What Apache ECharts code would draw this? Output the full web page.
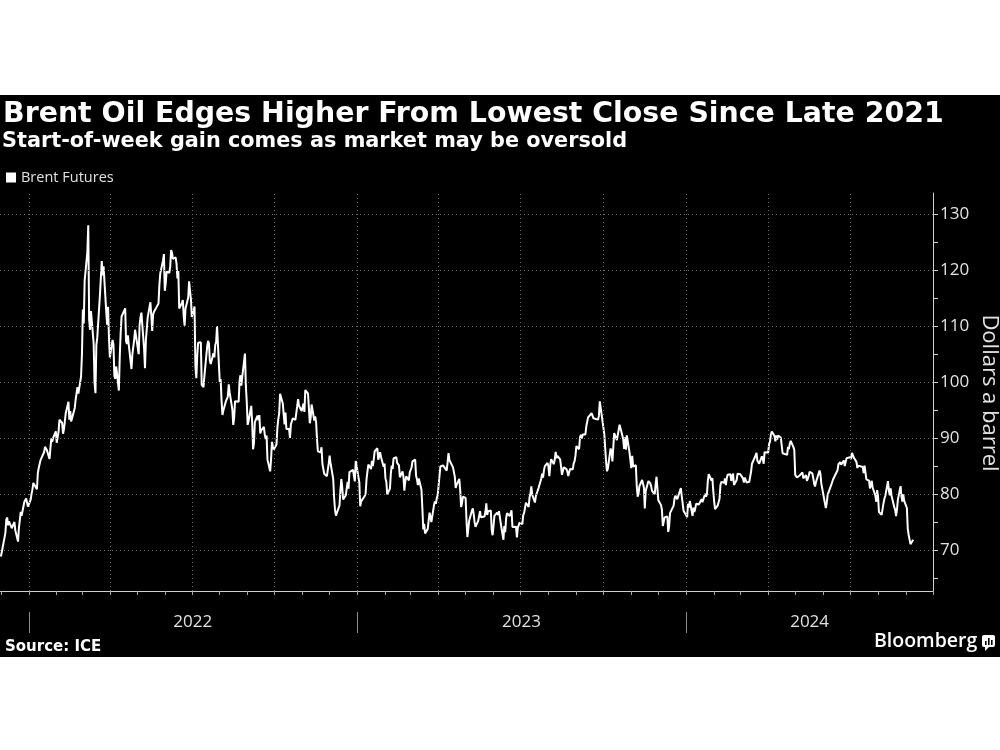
<!DOCTYPE html>
<html>
<head>
<meta charset="utf-8">
<script src="https://cdn.jsdelivr.net/npm/echarts@6/dist/echarts.min.js"></script>
<style>html,body{margin:0;padding:0;background:#fff}#chart{width:1000px;height:750px}</style>
</head>
<body>
<div id="chart"></div>
<script>
// ---------- texts ----------
const titleText = 'Brent Oil Edges Higher From Lowest Close Since Late 2021';
const subtitleText = 'Start-of-week gain comes as market may be oversold';
const seriesName = 'Brent Futures';
const yAxisTitle = 'Dollars a barrel';
const sourceText = 'Source: ICE';
const brandText = 'Bloomberg';

// ---------- axes ----------
const axisStartDate = '2021-11-30';
const axisEndDate = '2024-10-01';
const yMin = 62.7;
const yMax = 133.75;
const yLabelValues = [70, 80, 90, 100, 110, 120, 130];
const yTickValues = [65, 70, 75, 80, 85, 90, 95, 100, 105, 110, 115, 120, 125, 130];
const yearLabelDates = ['2022-07-02', '2023-07-02', '2024-05-17'];
const yearStartDates = ['2022-01-01', '2023-01-01', '2024-01-01'];
const quarterDates = ['2022-01-01','2022-04-01','2022-07-01','2022-10-01',
  '2023-01-01','2023-04-01','2023-07-01','2023-10-01',
  '2024-01-01','2024-04-01','2024-07-01'];

// ---------- data: [MM-DD, close] per year ----------
const closes2021 = [['12-01',68.87],['12-02',69.67],['12-03',69.88],['12-06',73.08],['12-07',75.44],['12-08',75.82],['12-09',74.42],['12-10',75.15],['12-13',73.90],['12-14',73.70],['12-15',73.88],['12-16',75.02],['12-17',73.52],['12-20',71.52],['12-21',73.98],['12-22',75.29],['12-23',76.85],['12-24',76.14],['12-27',78.60],['12-28',78.94],['12-29',79.23],['12-30',79.32],['12-31',77.78]];
const closes2022 = [['01-03',78.98],['01-04',80.00],['01-05',80.80],['01-06',81.99],['01-07',81.75],['01-10',80.87],['01-11',83.72],['01-12',84.67],['01-13',84.47],['01-14',86.06],['01-18',87.51],['01-19',88.44],['01-20',88.38],['01-21',87.89],['01-24',86.27],['01-25',88.20],['01-26',89.96],['01-27',89.34],['01-28',90.03],['01-31',91.21],
['02-01',89.16],['02-02',89.47],['02-03',91.11],['02-04',93.27],['02-07',92.69],['02-08',90.78],['02-09',91.55],['02-10',91.41],['02-11',94.44],['02-14',96.48],['02-15',93.28],['02-16',94.81],['02-17',92.97],['02-18',93.54],['02-21',95.39],['02-22',96.84],['02-23',96.84],['02-24',99.08],['02-25',97.93],['02-28',100.99],
['03-01',104.97],['03-02',112.93],['03-03',110.46],['03-04',118.11],['03-07',123.21],['03-08',127.98],['03-09',111.14],['03-10',109.33],['03-11',112.67],['03-14',106.90],['03-15',99.91],['03-16',98.02],['03-17',106.64],['03-18',107.93],['03-21',115.62],['03-22',115.48],['03-23',121.60],['03-24',119.03],['03-25',120.65],['03-28',112.48],['03-29',110.23],['03-30',113.45],['03-31',107.91],
['04-01',104.39],['04-04',107.53],['04-05',106.64],['04-06',101.07],['04-07',100.58],['04-08',102.78],['04-11',98.48],['04-12',104.64],['04-13',108.78],['04-14',111.70],['04-18',113.16],['04-19',107.25],['04-20',106.80],['04-21',108.33],['04-22',106.65],['04-25',102.32],['04-26',104.99],['04-27',105.32],['04-28',107.59],['04-29',109.34],
['05-03',104.97],['05-04',110.14],['05-05',111.55],['05-06',112.39],['05-09',105.94],['05-10',102.46],['05-11',107.51],['05-12',107.45],['05-13',111.55],['05-16',114.24],['05-17',111.93],['05-18',109.11],['05-19',112.04],['05-20',112.55],['05-23',113.42],['05-24',113.56],['05-25',114.03],['05-26',117.40],['05-27',119.43],['05-30',121.67],['05-31',122.84],
['06-01',116.29],['06-02',117.61],['06-03',119.72],['06-06',119.51],['06-07',120.57],['06-08',123.58],['06-09',123.07],['06-10',122.01],['06-13',122.27],['06-14',121.17],['06-15',118.51],['06-16',119.81],['06-17',113.12],['06-20',114.13],['06-21',114.65],['06-22',111.74],['06-23',110.05],['06-24',113.12],['06-27',115.09],['06-28',117.98],['06-29',116.26],['06-30',114.81],
['07-01',111.63],['07-04',113.50],['07-05',102.77],['07-06',100.69],['07-07',104.65],['07-08',107.02],['07-11',107.10],['07-12',99.49],['07-13',99.57],['07-14',99.10],['07-15',101.16],['07-18',106.27],['07-19',107.35],['07-20',106.92],['07-21',103.86],['07-22',103.20],['07-25',105.15],['07-26',104.40],['07-27',106.62],['07-28',107.14],['07-29',110.01],
['08-01',100.03],['08-02',100.54],['08-03',96.78],['08-04',94.12],['08-05',94.92],['08-08',96.65],['08-09',96.31],['08-10',97.40],['08-11',99.60],['08-12',98.15],['08-15',95.10],['08-16',92.34],['08-17',93.65],['08-18',96.59],['08-19',96.72],['08-22',96.48],['08-23',100.22],['08-24',101.22],['08-25',99.34],['08-26',100.99],['08-29',105.09],['08-30',99.31],['08-31',96.49],
['09-01',92.36],['09-02',93.02],['09-05',95.74],['09-06',92.83],['09-07',88.00],['09-08',89.15],['09-09',92.84],['09-12',94.00],['09-13',93.17],['09-14',94.10],['09-15',90.84],['09-16',91.35],['09-19',92.00],['09-20',90.62],['09-21',89.83],['09-22',90.46],['09-23',86.15],['09-26',84.06],['09-27',86.27],['09-28',89.32],['09-29',88.49],['09-30',87.96],
['10-03',88.86],['10-04',91.80],['10-05',93.37],['10-06',94.42],['10-07',97.92],['10-10',96.19],['10-11',94.29],['10-12',92.45],['10-13',94.57],['10-14',91.63],['10-17',91.62],['10-18',90.03],['10-19',92.41],['10-20',92.38],['10-21',93.50],['10-24',93.26],['10-25',93.52],['10-26',95.69],['10-27',96.96],['10-28',95.77],['10-31',94.83],
['11-01',94.65],['11-02',96.16],['11-03',94.67],['11-04',98.57],['11-07',97.92],['11-08',95.36],['11-09',92.65],['11-10',93.67],['11-11',95.99],['11-14',93.14],['11-15',93.86],['11-16',92.86],['11-17',89.78],['11-18',87.62],['11-21',87.45],['11-22',88.36],['11-23',85.41],['11-24',85.34],['11-25',83.63],['11-28',83.19],['11-29',83.03],['11-30',85.43],
['12-01',86.88],['12-02',85.57],['12-05',82.68],['12-06',79.35],['12-07',77.17],['12-08',76.15],['12-09',76.10],['12-12',77.99],['12-13',80.68],['12-14',82.70],['12-15',81.21],['12-16',79.04],['12-19',79.80],['12-20',79.99],['12-21',82.20],['12-22',80.98],['12-23',83.92],['12-27',84.33],['12-28',83.26],['12-29',82.26],['12-30',85.91]];
const closes2023 = [['01-03',82.10],['01-04',77.84],['01-05',78.69],['01-06',78.57],['01-09',79.65],['01-10',80.10],['01-11',82.67],['01-12',84.03],['01-13',85.28],['01-16',84.46],['01-17',85.92],['01-18',84.98],['01-19',86.16],['01-20',87.63],['01-23',88.19],['01-24',86.13],['01-25',86.12],['01-26',87.47],['01-27',86.66],['01-30',84.90],['01-31',85.46],
['02-01',82.84],['02-02',82.17],['02-03',79.94],['02-06',80.99],['02-07',83.69],['02-08',85.09],['02-09',84.50],['02-10',86.39],['02-13',86.61],['02-14',85.58],['02-15',85.38],['02-16',85.14],['02-17',83.00],['02-20',84.07],['02-21',83.05],['02-22',80.60],['02-23',82.21],['02-24',83.16],['02-27',82.45],['02-28',83.89],
['03-01',84.31],['03-02',84.75],['03-03',85.83],['03-06',86.18],['03-07',83.29],['03-08',82.66],['03-09',81.59],['03-10',82.78],['03-13',80.77],['03-14',77.45],['03-15',73.69],['03-16',74.70],['03-17',72.97],['03-20',73.79],['03-21',75.32],['03-22',76.69],['03-23',75.91],['03-24',74.99],['03-27',78.12],['03-28',78.65],['03-29',78.28],['03-30',79.27],['03-31',79.77],
['04-03',84.93],['04-04',84.94],['04-05',84.99],['04-06',85.12],['04-10',84.18],['04-11',85.61],['04-12',87.33],['04-13',86.09],['04-14',86.31],['04-17',84.76],['04-18',84.77],['04-19',83.12],['04-20',81.10],['04-21',81.66],['04-24',82.73],['04-25',80.77],['04-26',77.69],['04-27',78.37],['04-28',79.54],
['05-01',79.31],['05-02',75.32],['05-03',72.33],['05-04',72.50],['05-05',75.30],['05-08',77.01],['05-09',77.44],['05-10',76.41],['05-11',74.98],['05-12',74.17],['05-15',75.23],['05-16',74.91],['05-17',76.96],['05-18',75.86],['05-19',75.58],['05-22',75.99],['05-23',76.84],['05-24',78.36],['05-25',76.26],['05-26',76.95],['05-29',77.07],['05-30',73.54],['05-31',72.66],
['06-01',74.28],['06-02',76.13],['06-05',76.71],['06-06',76.29],['06-07',76.95],['06-08',75.96],['06-09',74.79],['06-12',71.84],['06-13',74.29],['06-14',73.20],['06-15',75.67],['06-16',76.61],['06-19',76.09],['06-20',75.90],['06-21',77.12],['06-22',74.14],['06-23',73.85],['06-26',74.18],['06-27',72.26],['06-28',74.03],['06-29',74.34],['06-30',74.90],
['07-03',74.65],['07-04',76.25],['07-05',76.65],['07-06',76.52],['07-07',78.47],['07-10',77.69],['07-11',79.40],['07-12',80.11],['07-13',81.36],['07-14',79.87],['07-17',78.50],['07-18',79.63],['07-19',79.46],['07-20',79.64],['07-21',81.07],['07-24',82.74],['07-25',83.64],['07-26',82.92],['07-27',84.24],['07-28',84.99],['07-31',85.56],
['08-01',84.91],['08-02',83.20],['08-03',85.14],['08-04',86.24],['08-07',85.34],['08-08',86.17],['08-09',87.55],['08-10',86.40],['08-11',86.81],['08-14',86.21],['08-15',84.89],['08-16',83.45],['08-17',84.12],['08-18',84.80],['08-21',84.46],['08-22',84.03],['08-23',83.21],['08-24',83.36],['08-25',84.48],['08-28',84.42],['08-29',85.49],['08-30',85.86],['08-31',86.86],
['09-01',88.55],['09-04',88.00],['09-05',90.04],['09-06',90.60],['09-07',89.92],['09-08',90.65],['09-11',90.64],['09-12',92.06],['09-13',91.88],['09-14',93.70],['09-15',93.93],['09-18',94.43],['09-19',94.34],['09-20',93.53],['09-21',93.30],['09-22',93.27],['09-25',93.29],['09-26',93.96],['09-27',96.55],['09-28',95.38],['09-29',95.31],
['10-02',90.71],['10-03',90.92],['10-04',85.81],['10-05',84.07],['10-06',84.58],['10-09',88.15],['10-10',87.65],['10-11',85.82],['10-12',86.00],['10-13',90.89],['10-16',89.65],['10-17',89.90],['10-18',91.50],['10-19',92.38],['10-20',92.16],['10-23',89.83],['10-24',88.07],['10-25',90.13],['10-26',87.93],['10-27',90.48],['10-30',87.45],['10-31',87.41],
['11-01',84.63],['11-02',86.85],['11-03',84.89],['11-06',85.18],['11-07',81.61],['11-08',79.54],['11-09',80.01],['11-10',81.43],['11-13',82.52],['11-14',82.47],['11-15',81.18],['11-16',77.42],['11-17',80.61],['11-20',82.32],['11-21',82.45],['11-22',81.96],['11-23',81.42],['11-24',80.58],['11-27',79.98],['11-28',81.68],['11-29',83.10],['11-30',82.83],
['12-01',78.88],['12-04',78.03],['12-05',77.20],['12-06',74.30],['12-07',74.05],['12-08',75.84],['12-11',76.03],['12-12',73.24],['12-13',74.26],['12-14',76.61],['12-15',76.55],['12-18',77.95],['12-19',79.23],['12-20',79.70],['12-21',79.39],['12-22',79.07],['12-26',81.07],['12-27',79.65],['12-28',78.39],['12-29',77.04]];
const closes2024 = [['01-02',75.89],['01-03',78.25],['01-04',77.59],['01-05',78.76],['01-08',76.12],['01-09',77.59],['01-10',76.80],['01-11',77.41],['01-12',78.29],['01-15',78.15],['01-16',78.29],['01-17',77.88],['01-18',79.10],['01-19',78.56],['01-22',80.06],['01-23',79.55],['01-24',80.04],['01-25',82.43],['01-26',83.55],['01-29',82.40],['01-30',82.87],['01-31',80.55],
['02-01',78.70],['02-02',77.33],['02-05',78.00],['02-06',78.59],['02-07',79.21],['02-08',81.63],['02-09',82.19],['02-12',82.00],['02-13',82.77],['02-14',81.60],['02-15',82.86],['02-16',83.47],['02-19',83.56],['02-20',82.34],['02-21',83.03],['02-22',83.67],['02-23',81.62],['02-26',82.53],['02-27',83.65],['02-28',83.68],['02-29',83.62],
['03-01',83.55],['03-04',82.80],['03-05',82.04],['03-06',82.96],['03-07',83.01],['03-08',82.08],['03-11',82.21],['03-12',81.92],['03-13',84.03],['03-14',85.42],['03-15',85.34],['03-18',86.89],['03-19',87.38],['03-20',85.95],['03-21',85.78],['03-22',85.43],['03-25',86.75],['03-26',86.25],['03-27',85.41],['03-28',87.48],
['04-01',87.42],['04-02',88.92],['04-03',89.35],['04-04',90.65],['04-05',91.17],['04-08',90.38],['04-09',89.42],['04-10',90.48],['04-11',89.74],['04-12',90.45],['04-15',90.10],['04-16',90.02],['04-17',87.29],['04-18',87.11],['04-19',87.29],['04-22',87.00],['04-23',88.42],['04-24',88.02],['04-25',89.01],['04-26',89.50],['04-29',88.40],['04-30',87.86],
['05-01',83.44],['05-02',83.67],['05-03',82.96],['05-06',83.33],['05-07',83.16],['05-08',83.58],['05-09',83.88],['05-10',82.79],['05-13',83.36],['05-14',82.38],['05-15',82.75],['05-16',83.27],['05-17',83.98],['05-20',83.71],['05-21',82.88],['05-22',81.90],['05-23',81.36],['05-24',82.12],['05-28',84.22],['05-29',83.60],['05-30',81.86],['05-31',81.62],
['06-03',78.36],['06-04',77.52],['06-05',78.41],['06-06',79.87],['06-07',79.62],['06-10',81.63],['06-11',81.92],['06-12',82.60],['06-13',82.75],['06-14',82.62],['06-17',84.25],['06-18',85.33],['06-19',85.07],['06-20',85.71],['06-21',85.24],['06-24',86.01],['06-25',85.01],['06-26',85.25],['06-27',86.39],['06-28',86.41],
['07-01',86.60],['07-02',86.24],['07-03',87.34],['07-04',87.43],['07-05',86.54],['07-08',85.75],['07-09',84.66],['07-10',85.08],['07-11',85.40],['07-12',85.03],['07-15',84.85],['07-16',83.73],['07-17',85.08],['07-18',85.11],['07-19',82.63],['07-22',82.40],['07-23',81.01],['07-24',81.71],['07-25',82.37],['07-26',81.13],['07-29',79.78],['07-30',78.63],['07-31',80.72],
['08-01',79.52],['08-02',76.81],['08-05',76.30],['08-06',76.48],['08-07',78.33],['08-08',79.16],['08-09',79.66],['08-12',82.30],['08-13',80.69],['08-14',79.76],['08-15',81.04],['08-16',79.68],['08-19',77.66],['08-20',77.20],['08-21',76.05],['08-22',77.22],['08-23',79.02],['08-26',81.43],['08-27',79.55],['08-28',78.65],['08-29',79.94],['08-30',78.80],
['09-02',77.52],['09-03',73.75],['09-04',72.70],['09-05',72.69],['09-06',71.06],['09-09',71.84]];

// ---------- helpers ----------
function ts(s) { const p = s.split('-').map(Number); return new Date(p[0], p[1] - 1, p[2]).getTime(); }
const yearBlocks = [['2021', closes2021], ['2022', closes2022], ['2023', closes2023], ['2024', closes2024]];
const brentData = [];
yearBlocks.forEach(([y, rows]) => rows.forEach(([md, v]) => brentData.push([ts(y + '-' + md), v])));

const monthTicks = [];
for (let y = 2021; y <= 2024; y++) {
  for (let m = 1; m <= 12; m++) {
    const t = new Date(y, m - 1, 1).getTime();
    if (t >= ts(axisStartDate) && t <= ts(axisEndDate)) monthTicks.push(t);
  }
}

const labelColor = '#e2e2e2';
const axisColor = '#cfcfcf';
const gridColor = '#6e6e6e';

const chart = echarts.init(document.getElementById('chart'), null, { renderer: 'canvas' });
chart.setOption({
  animation: false,
  backgroundColor: '#000',
  grid: { left: 0, right: 67, top: 193, bottom: 159, containLabel: false, outerBoundsMode: 'none' },
  legend: {
    data: [seriesName], left: 6, top: 170, padding: 0, icon: 'rect',
    itemWidth: 10, itemHeight: 10, selectedMode: false,
    textStyle: { color: labelColor, fontFamily: 'Open Sans', fontSize: 14.5 }
  },
  xAxis: [{
    type: 'value', min: ts(axisStartDate), max: ts(axisEndDate), scale: true,
    axisLine: { show: true, onZero: false, lineStyle: { color: axisColor, width: 1 } },
    axisTick: { show: true, customValues: monthTicks, length: 4, lineStyle: { color: '#a8a8a8' } },
    axisLabel: {
      customValues: yearLabelDates.map(ts), margin: 23,
      formatter: v => String(new Date(v).getFullYear()),
      color: labelColor, fontFamily: 'Open Sans', fontSize: 17
    },
    splitLine: { show: false }
  }, {
    type: 'value', min: ts(axisStartDate), max: ts(axisEndDate), scale: true, position: 'bottom', offset: 21,
    axisLine: { show: false, onZero: false },
    axisTick: { show: true, customValues: yearStartDates.map(ts), length: 21, lineStyle: { color: '#8c8c8c' } },
    axisLabel: { show: false },
    splitLine: { show: false }
  }],
  yAxis: {
    type: 'value', position: 'right', min: yMin, max: yMax, scale: true,
    axisLine: { show: true, onZero: false, lineStyle: { color: axisColor, width: 1 } },
    axisTick: { show: true, customValues: yTickValues, length: 5, lineStyle: { color: axisColor } },
    axisLabel: { customValues: yLabelValues, margin: 7, color: labelColor, fontFamily: 'Open Sans', fontSize: 17 },
    splitLine: { show: false }
  },
  series: [{
    type: 'line', silent: true, z: 1, data: [],
    markLine: {
      silent: true, symbol: ['none', 'none'], animation: false,
      label: { show: false },
      lineStyle: { color: gridColor, type: [1, 3], width: 1 },
      emphasis: { disabled: true },
      data: yLabelValues.map(v => ({ yAxis: v })).concat(quarterDates.map(d => ({ xAxis: ts(d) })))
    }
  }, {
    name: seriesName, type: 'line', data: brentData, z: 3,
    showSymbol: false, symbol: 'none',
    lineStyle: { color: '#ffffff', width: 2 },
    itemStyle: { color: '#ffffff' },
    emphasis: { disabled: true }
  }],
  graphic: [
    { type: 'rect', silent: true, shape: { x: 0, y: 0, width: 1000, height: 95 }, style: { fill: '#ffffff' } },
    { type: 'rect', silent: true, shape: { x: 0, y: 657, width: 1000, height: 93 }, style: { fill: '#ffffff' } },
    { type: 'text', x: 3, y: 115, style: { text: titleText, fill: '#ffffff', font: 'bold 28.4px "DejaVu Sans"', align: 'left', verticalAlign: 'middle' } },
    { type: 'text', x: 2, y: 142, style: { text: subtitleText, fill: '#ffffff', font: 'bold 20.8px "DejaVu Sans"', align: 'left', verticalAlign: 'middle' } },
    { type: 'text', x: 989, y: 393, rotation: -Math.PI / 2, style: { text: yAxisTitle, fill: labelColor, font: '22px "Open Sans"', align: 'center', verticalAlign: 'middle' } },
    { type: 'text', x: 5, y: 647, style: { text: sourceText, fill: '#ffffff', font: 'bold 15px "DejaVu Sans"', align: 'left', verticalAlign: 'middle' } },
    { type: 'text', x: 874, y: 641, style: { text: brandText, fill: '#ffffff', font: '600 19.5px "Open Sans"', align: 'left', verticalAlign: 'middle' } },
    { type: 'rect', silent: true, shape: { x: 982, y: 635, width: 13, height: 12, r: 2 }, style: { fill: '#ffffff' } },
    { type: 'polygon', silent: true, shape: { points: [[985, 646], [990, 646], [985, 651]] }, style: { fill: '#ffffff' } },
    { type: 'rect', silent: true, shape: { x: 985, y: 641, width: 1.6, height: 4 }, style: { fill: '#000000' } },
    { type: 'rect', silent: true, shape: { x: 988, y: 638, width: 1.6, height: 7 }, style: { fill: '#000000' } },
    { type: 'rect', silent: true, shape: { x: 991, y: 640, width: 1.6, height: 5 }, style: { fill: '#000000' } }
  ]
});
</script>
</body>
</html>
